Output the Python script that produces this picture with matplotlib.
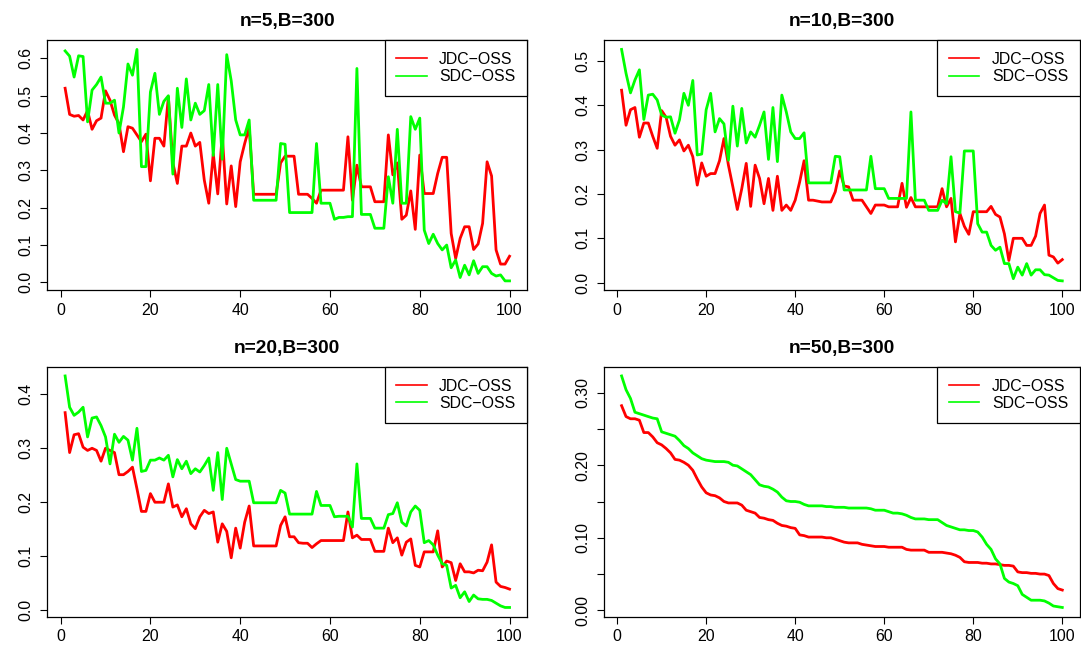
import matplotlib
matplotlib.use("Agg")
import matplotlib.pyplot as plt
import numpy as np
from matplotlib.ticker import FixedLocator, FuncFormatter

plt.rcParams['font.family'] = ['Liberation Sans', 'DejaVu Sans']

x = np.arange(1, 101)

titles = ["n=5,B=300", "n=10,B=300", "n=20,B=300", "n=50,B=300"]
series_names = ["JDC\u2212OSS", "SDC\u2212OSS"]

jdc_5 = [
    0.52, 0.45, 0.445, 0.447, 0.435, 0.46, 0.41, 0.433, 0.44, 0.513,
    0.488, 0.448, 0.425, 0.35, 0.417, 0.413, 0.395, 0.377, 0.397, 0.272,
    0.386, 0.386, 0.365, 0.497, 0.32, 0.265, 0.365, 0.365, 0.40, 0.365,
    0.375, 0.274, 0.212, 0.345, 0.237, 0.395, 0.21, 0.312, 0.203, 0.323,
    0.372, 0.415, 0.236, 0.236, 0.236, 0.236, 0.236, 0.236, 0.32, 0.338,
    0.338, 0.338, 0.236, 0.236, 0.236, 0.225, 0.212, 0.247, 0.247, 0.247,
    0.247, 0.247, 0.247, 0.39, 0.22, 0.314, 0.256, 0.256, 0.256, 0.216,
    0.216, 0.216, 0.395, 0.288, 0.32, 0.169, 0.18, 0.245, 0.142, 0.341,
    0.238, 0.238, 0.238, 0.292, 0.335, 0.335, 0.131, 0.064, 0.118, 0.149,
    0.149, 0.088, 0.103, 0.158, 0.323, 0.285, 0.087, 0.049, 0.049, 0.07,
]
sdc_5 = [
    0.62, 0.606, 0.55, 0.607, 0.605, 0.43, 0.515, 0.53, 0.55, 0.48,
    0.48, 0.488, 0.40, 0.47, 0.585, 0.555, 0.624, 0.31, 0.31, 0.51,
    0.56, 0.45, 0.485, 0.50, 0.29, 0.52, 0.415, 0.545, 0.435, 0.48,
    0.45, 0.46, 0.53, 0.34, 0.53, 0.33, 0.61, 0.54, 0.435, 0.395,
    0.395, 0.435, 0.22, 0.22, 0.22, 0.22, 0.22, 0.22, 0.372, 0.37,
    0.187, 0.187, 0.187, 0.187, 0.187, 0.187, 0.372, 0.212, 0.212, 0.212,
    0.169, 0.174, 0.174, 0.176, 0.176, 0.573, 0.182, 0.182, 0.182, 0.145,
    0.145, 0.145, 0.283, 0.212, 0.41, 0.212, 0.212, 0.444, 0.41, 0.44,
    0.14, 0.104, 0.129, 0.104, 0.087, 0.10, 0.039, 0.06, 0.013, 0.046,
    0.02, 0.058, 0.024, 0.042, 0.042, 0.024, 0.017, 0.02, 0.004, 0.004,
]

jdc_10 = [
    0.434, 0.355, 0.39, 0.395, 0.328, 0.36, 0.36, 0.33, 0.303, 0.388,
    0.373, 0.33, 0.31, 0.322, 0.297, 0.31, 0.284, 0.22, 0.27, 0.24,
    0.246, 0.246, 0.275, 0.325, 0.265, 0.216, 0.165, 0.212, 0.269, 0.172,
    0.265, 0.235, 0.178, 0.235, 0.163, 0.24, 0.163, 0.175, 0.163, 0.186,
    0.227, 0.275, 0.186, 0.186, 0.184, 0.182, 0.182, 0.182, 0.205, 0.252,
    0.218, 0.216, 0.186, 0.186, 0.186, 0.171, 0.156, 0.175, 0.175, 0.175,
    0.171, 0.171, 0.171, 0.224, 0.17, 0.192, 0.171, 0.171, 0.171, 0.171,
    0.171, 0.171, 0.212, 0.171, 0.19, 0.092, 0.156, 0.127, 0.109, 0.16,
    0.16, 0.16, 0.16, 0.172, 0.154, 0.148, 0.11, 0.05, 0.1, 0.1,
    0.1, 0.084, 0.084, 0.105, 0.156, 0.175, 0.062, 0.058, 0.044, 0.052,
]
sdc_10 = [
    0.526, 0.472, 0.428, 0.457, 0.48, 0.368, 0.423, 0.425, 0.412, 0.378,
    0.373, 0.374, 0.337, 0.367, 0.427, 0.40, 0.456, 0.288, 0.29, 0.39,
    0.427, 0.34, 0.37, 0.358, 0.276, 0.398, 0.308, 0.393, 0.315, 0.34,
    0.328, 0.355, 0.385, 0.278, 0.395, 0.273, 0.423, 0.385, 0.34, 0.325,
    0.325, 0.338, 0.225, 0.225, 0.225, 0.225, 0.225, 0.225, 0.285, 0.284,
    0.209, 0.209, 0.209, 0.209, 0.209, 0.209, 0.285, 0.212, 0.212, 0.212,
    0.19, 0.19, 0.19, 0.19, 0.19, 0.385, 0.186, 0.186, 0.186, 0.163,
    0.163, 0.163, 0.186, 0.178, 0.284, 0.16, 0.157, 0.297, 0.297, 0.297,
    0.133, 0.114, 0.114, 0.084, 0.073, 0.08, 0.043, 0.043, 0.009, 0.035,
    0.017, 0.043, 0.017, 0.029, 0.029, 0.018, 0.017, 0.011, 0.005, 0.004,
]

jdc_20 = [
    0.365, 0.291, 0.324, 0.326, 0.301, 0.295, 0.299, 0.295, 0.275, 0.299,
    0.295, 0.291, 0.25, 0.25, 0.256, 0.264, 0.224, 0.182, 0.182, 0.215,
    0.199, 0.199, 0.199, 0.233, 0.19, 0.194, 0.172, 0.187, 0.159, 0.15,
    0.172, 0.184, 0.178, 0.181, 0.125, 0.159, 0.145, 0.096, 0.151, 0.114,
    0.162, 0.192, 0.118, 0.118, 0.118, 0.118, 0.118, 0.118, 0.156, 0.172,
    0.135, 0.135, 0.124, 0.123, 0.123, 0.115, 0.122, 0.128, 0.128, 0.128,
    0.128, 0.128, 0.128, 0.181, 0.133, 0.138, 0.13, 0.13, 0.13, 0.108,
    0.108, 0.108, 0.151, 0.124, 0.133, 0.101, 0.125, 0.131, 0.082, 0.079,
    0.107, 0.107, 0.107, 0.146, 0.079, 0.09, 0.087, 0.054, 0.085, 0.07,
    0.07, 0.068, 0.073, 0.072, 0.088, 0.12, 0.051, 0.043, 0.041, 0.038,
]
sdc_20 = [
    0.433, 0.375, 0.36, 0.366, 0.375, 0.32, 0.355, 0.357, 0.341, 0.32,
    0.27, 0.325, 0.31, 0.321, 0.314, 0.277, 0.336, 0.256, 0.258, 0.277,
    0.277, 0.281, 0.277, 0.286, 0.246, 0.278, 0.261, 0.275, 0.252, 0.261,
    0.255, 0.267, 0.281, 0.221, 0.291, 0.204, 0.299, 0.27, 0.241, 0.238,
    0.238, 0.238, 0.198, 0.198, 0.198, 0.198, 0.198, 0.198, 0.221, 0.216,
    0.177, 0.177, 0.177, 0.177, 0.177, 0.177, 0.219, 0.193, 0.193, 0.193,
    0.172, 0.173, 0.173, 0.173, 0.153, 0.27, 0.169, 0.169, 0.169, 0.151,
    0.151, 0.151, 0.176, 0.178, 0.198, 0.162, 0.155, 0.181, 0.192, 0.184,
    0.124, 0.128, 0.12, 0.101, 0.085, 0.082, 0.04, 0.045, 0.022, 0.033,
    0.015, 0.027, 0.02, 0.019, 0.019, 0.017, 0.012, 0.007, 0.004, 0.004,
]

jdc_50 = [
    0.282, 0.267, 0.264, 0.264, 0.262, 0.245, 0.245, 0.239, 0.231, 0.228,
    0.223, 0.217, 0.208, 0.207, 0.204, 0.2, 0.193, 0.181, 0.17, 0.162,
    0.159, 0.158, 0.155, 0.15, 0.148, 0.148, 0.148, 0.145, 0.138, 0.136,
    0.134, 0.128, 0.127, 0.125, 0.124, 0.12, 0.117, 0.116, 0.114, 0.113,
    0.104, 0.103, 0.101, 0.101, 0.101, 0.101, 0.1, 0.1, 0.098, 0.096,
    0.094, 0.093, 0.093, 0.093, 0.091, 0.09, 0.089, 0.088, 0.088, 0.088,
    0.087, 0.087, 0.087, 0.087, 0.084, 0.083, 0.083, 0.083, 0.083, 0.08,
    0.08, 0.08, 0.08, 0.079, 0.078, 0.076, 0.073, 0.067, 0.066, 0.066,
    0.066, 0.065, 0.065, 0.064, 0.064, 0.063, 0.062, 0.062, 0.061, 0.053,
    0.052, 0.052, 0.051, 0.051, 0.05, 0.05, 0.048, 0.037, 0.03, 0.028,
]
sdc_50 = [
    0.323, 0.304, 0.292, 0.273, 0.271, 0.269, 0.267, 0.265, 0.264, 0.246,
    0.244, 0.242, 0.24, 0.234, 0.227, 0.223, 0.217, 0.213, 0.209, 0.207,
    0.206, 0.205, 0.205, 0.205, 0.204, 0.2, 0.199, 0.195, 0.191, 0.187,
    0.18, 0.173, 0.171, 0.17, 0.167, 0.163, 0.156, 0.151, 0.15, 0.15,
    0.149, 0.146, 0.144, 0.144, 0.144, 0.144, 0.143, 0.143, 0.142, 0.142,
    0.142, 0.141, 0.141, 0.141, 0.141, 0.141, 0.14, 0.138, 0.138, 0.138,
    0.136, 0.134, 0.134, 0.133, 0.131, 0.128, 0.126, 0.126, 0.126, 0.125,
    0.125, 0.125, 0.121, 0.117, 0.115, 0.113, 0.111, 0.111, 0.11, 0.11,
    0.108, 0.101, 0.091, 0.084, 0.071, 0.064, 0.044, 0.039, 0.037, 0.034,
    0.022, 0.018, 0.014, 0.014, 0.014, 0.013, 0.01, 0.006, 0.005, 0.004,
]

# y ticks per panel (n=50 has unlabelled ticks every 0.05)
y_ticks = [
    np.arange(0, 0.61, 0.1),
    np.arange(0, 0.51, 0.1),
    np.arange(0, 0.41, 0.1),
    np.arange(0, 0.301, 0.05),
]


def draw_panel(ax, jdc, sdc, title, yticks, two_dec=False):
    ax.plot(x, jdc, color='#ff0000', lw=2, label=series_names[0])
    ax.plot(x, sdc, color='#00ff00', lw=2, label=series_names[1])
    ax.margins(x=0.04, y=0.04)
    ax.set_title(title, fontsize=13.8, fontweight='bold', pad=10)
    ax.set_xticks([0, 20, 40, 60, 80, 100])
    ax.yaxis.set_major_locator(FixedLocator(yticks))
    if two_dec:
        fmt = lambda v, p: f"{v:.2f}" if round(v * 100) % 10 == 0 else ""
    else:
        fmt = lambda v, p: f"{v:.1f}"
    ax.yaxis.set_major_formatter(FuncFormatter(fmt))
    ax.tick_params(direction='out', length=5, width=0.8, labelsize=11.4,
                   colors='black', pad=4)
    ax.tick_params(axis='y', labelrotation=90, pad=5)
    for lab in ax.get_yticklabels():
        lab.set_va('center')
    for sp in ax.spines.values():
        sp.set_linewidth(0.9)
        sp.set_color('black')
    leg = ax.legend(loc='upper right', borderaxespad=0, fancybox=False,
                    framealpha=1, edgecolor='black', fontsize=11.4,
                    handlelength=1.9, handletextpad=0.8, borderpad=0.75,
                    labelspacing=0.15)
    leg.get_frame().set_linewidth(0.9)
    for line in leg.get_lines():
        line.set_linewidth(1.2)


def main():
    fig = plt.figure(figsize=(10.81, 6.52), dpi=100)
    positions = [
        [0.0438, 0.555, 0.444, 0.3834],
        [0.5587, 0.555, 0.4403, 0.3834],
        [0.0438, 0.0541, 0.444, 0.3835],
        [0.5587, 0.0541, 0.4403, 0.3835],
    ]
    data = [(jdc_5, sdc_5), (jdc_10, sdc_10), (jdc_20, sdc_20), (jdc_50, sdc_50)]
    for k, (jdc, sdc) in enumerate(data):
        ax = fig.add_axes(positions[k])
        draw_panel(ax, jdc, sdc, titles[k], y_ticks[k], two_dec=(k == 3))
    fig.savefig("out.png", dpi=100)


if __name__ == '__main__':
    main()
